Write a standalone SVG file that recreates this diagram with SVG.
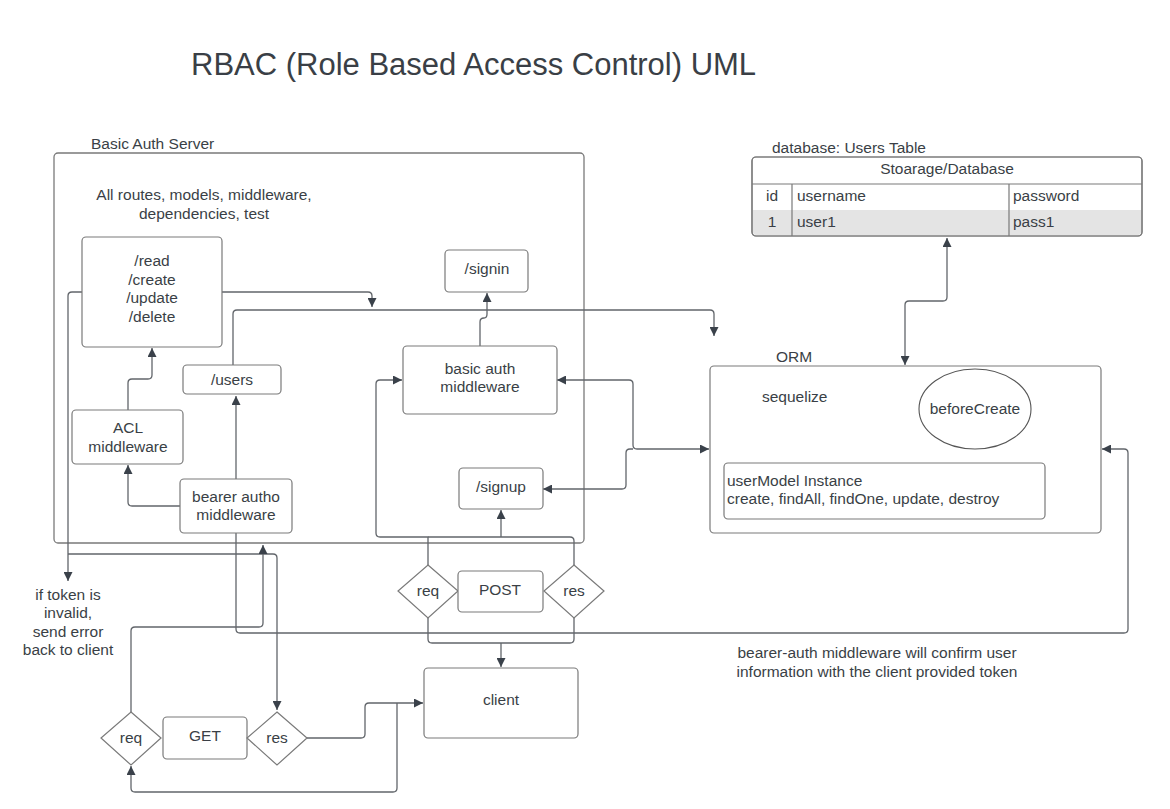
<svg xmlns="http://www.w3.org/2000/svg" width="1170" height="809" viewBox="0 0 1170 809">
<defs>
<marker id="ah" viewBox="0 0 10 10" refX="10" refY="5" markerWidth="11" markerHeight="9" markerUnits="userSpaceOnUse" orient="auto-start-reverse">
<path d="M0,0 L10,5 L0,10 z" fill="#3a414a"/>
</marker>
<style>
text{font-family:"Liberation Sans",Arial,sans-serif;fill:#3a3f46;font-size:15.5px}
.c{text-anchor:middle}
.box{fill:#fff;stroke:#7a7a7a;stroke-width:1.2}
.frame{fill:none;stroke:#7a7a7a;stroke-width:1.3}
.ln{fill:none;stroke:#62666b;stroke-width:1.3;stroke-linejoin:round}
.a{marker-end:url(#ah)}
.b{marker-start:url(#ah);marker-end:url(#ah)}
.s{marker-start:url(#ah)}
</style>
</defs>
<rect width="1170" height="809" fill="#fff"/>

<text id="title" x="191" y="75" style="font-size:31px">RBAC (Role Based Access Control) UML</text>

<g id="server">
<rect class="frame" x="54" y="153" width="530" height="390" rx="4"/>
<text x="91" y="149">Basic Auth Server</text>
<text class="c" x="204" y="200">All routes, models, middleware,</text>
<text class="c" x="204" y="219">dependencies, test</text>
</g>

<g id="connectors">
<path class="ln a" d="M222,292 H368 Q372,292 372,296 V307"/>
<path class="ln a" d="M233,365 V314 Q233,310 237,310 H710 Q714,310 714,314 V336"/>
<path class="ln a" d="M82,292 H72 Q68,292 68,296 V581"/>
<path class="ln a" d="M68,554 H273 Q277,554 277,558 V710"/>
<path class="ln a" d="M128,410 V383 Q128,379 132,379 H148 Q152,379 152,375 V348"/>
<path class="ln a" d="M180,506 H132 Q128,506 128,502 V465"/>
<path class="ln a" d="M236,479 V396"/>
<path class="ln a" d="M236,533 V629 Q236,633 240,633 H1124 Q1128,633 1128,629 V453 Q1128,449 1124,449 H1102"/>
<path class="ln a" d="M480,346 V322 Q480,318 484,318 Q487,318 487,314 V293"/>
<path class="ln b" d="M557,380 H629 Q633,380 633,384 V445 Q633,449 637,449 H709"/>
<path class="ln s" d="M543,489 H622 Q626,489 626,485 V453 Q626,449 630,449 H633"/>
<path class="ln b" d="M947,238 V297 Q947,301 943,301 H909 Q905,301 905,305 V365"/>
<path class="ln a" d="M428,565 V537 H380 Q376,537 376,533 V384 Q376,380 380,380 H402"/>
<path class="ln" d="M428,537 H570 Q574,537 574,541 V565"/>
<path class="ln a" d="M501,537 V510"/>
<path class="ln" d="M428,618 V639 Q428,643 432,643 H570 Q574,643 574,639 V618"/>
<path class="ln a" d="M501,643 V667"/>
<path class="ln a" d="M307,738 H361 Q365,738 365,734 V707 Q365,703 369,703 H423"/>
<path class="ln a" d="M397,703 V788 Q397,792 393,792 H135 Q131,792 131,788 V766"/>
<path class="ln a" d="M131,712 V631 Q131,627 135,627 H259 Q263,627 263,623 V545"/>
</g>

<g id="read">
<rect class="box" x="82" y="237" width="140" height="110" rx="4"/>
<text class="c" x="152" y="266">/read</text>
<text class="c" x="152" y="284.5">/create</text>
<text class="c" x="152" y="303">/update</text>
<text class="c" x="152" y="321.5">/delete</text>
</g>
<g id="users">
<rect class="box" x="183" y="365" width="98" height="29" rx="4"/>
<text class="c" x="232" y="385">/users</text>
</g>
<g id="acl">
<rect class="box" x="72" y="410" width="111" height="54" rx="4"/>
<text class="c" x="128" y="433">ACL</text>
<text class="c" x="128" y="452">middleware</text>
</g>
<g id="bearer">
<rect class="box" x="180" y="479" width="112" height="54" rx="4"/>
<text class="c" x="236" y="502">bearer autho</text>
<text class="c" x="236" y="520">middleware</text>
</g>
<g id="signin">
<rect class="box" x="445" y="250" width="83" height="42" rx="4"/>
<text class="c" x="487" y="274">/signin</text>
</g>
<g id="basicauth">
<rect class="box" x="403" y="346" width="154" height="68" rx="4"/>
<text class="c" x="480" y="374">basic auth</text>
<text class="c" x="480" y="392">middleware</text>
</g>
<g id="signup">
<rect class="box" x="459" y="468" width="84" height="41" rx="4"/>
<text class="c" x="501" y="492">/signup</text>
</g>

<g id="post">
<polygon class="box" points="428,565 458,591 428,618 398,591"/>
<text class="c" x="428" y="596">req</text>
<rect class="box" x="458" y="571" width="85" height="41" rx="4"/>
<text class="c" x="500" y="595">POST</text>
<polygon class="box" points="574,565 604,591 574,618 544,591"/>
<text class="c" x="574" y="596">res</text>
</g>

<g id="client">
<rect class="box" x="424" y="668" width="154" height="70" rx="4"/>
<text class="c" x="501" y="705">client</text>
</g>

<g id="get">
<polygon class="box" points="131,712 161,738 131,765 101,738"/>
<text class="c" x="131" y="743">req</text>
<rect class="box" x="163" y="717" width="84" height="42" rx="4"/>
<text class="c" x="205" y="741">GET</text>
<polygon class="box" points="277,712 307,738 277,765 247,738"/>
<text class="c" x="277" y="743">res</text>
</g>

<g id="token-note">
<text class="c" x="68" y="600">if token is</text>
<text class="c" x="68" y="618">invalid,</text>
<text class="c" x="68" y="637">send error</text>
<text class="c" x="68" y="655">back to client</text>
</g>

<g id="database">
<text x="772" y="153">database: Users Table</text>
<rect x="752" y="157" width="390" height="79" rx="4" fill="#fff" stroke="#7a7a7a" stroke-width="1.2"/>
<path d="M753,210 H1141 V232 Q1141,235 1138,235 H756 Q753,235 753,232 Z" fill="#e4e4e4"/>
<path d="M752,184 H1142 M792,184 V236 M1009,184 V236" stroke="#7a7a7a" stroke-width="1.2" fill="none"/>
<rect x="752" y="157" width="390" height="79" rx="4" fill="none" stroke="#7a7a7a" stroke-width="1.2"/>
<text class="c" x="947" y="174">Stoarage/Database</text>
<text class="c" x="772" y="201">id</text>
<text x="797" y="201">username</text>
<text x="1013" y="201">password</text>
<text class="c" x="772" y="227">1</text>
<text x="797" y="227">user1</text>
<text x="1013" y="227">pass1</text>
</g>

<g id="orm">
<text x="776" y="362">ORM</text>
<rect class="box" x="710" y="366" width="391" height="167" rx="4"/>
<text x="762" y="402">sequelize</text>
<ellipse cx="975" cy="409" rx="56" ry="40" fill="#fff" stroke="#555" stroke-width="1.1"/>
<text class="c" x="975" y="414">beforeCreate</text>
<rect class="box" x="724" y="463" width="321" height="56" rx="4"/>
<text x="727" y="486">userModel Instance</text>
<text x="727" y="504">create, findAll, findOne, update, destroy</text>
</g>

<g id="bearer-note">
<text class="c" x="877" y="658">bearer-auth middleware will confirm user</text>
<text class="c" x="877" y="677">information with the client provided token</text>
</g>
</svg>
